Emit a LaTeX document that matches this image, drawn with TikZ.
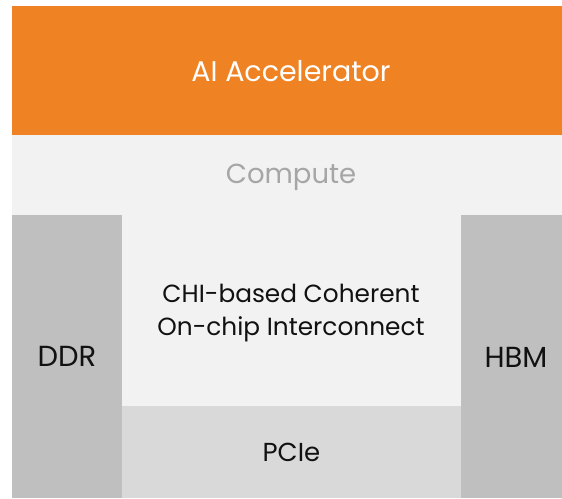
\documentclass[tikz,border=0pt]{standalone}
\usepackage{fontspec}
\setmainfont{Poppins}
\definecolor{accorange}{HTML}{EF8222}
\definecolor{lightbg}{HTML}{F2F2F2}
\definecolor{memgray}{HTML}{BFBFBF}
\definecolor{pciegray}{HTML}{D9D9D9}
\definecolor{computetext}{HTML}{A6A6A6}
\definecolor{darktext}{HTML}{111111}
\begin{document}
\begin{tikzpicture}[x=1pt,y=-1pt,
  block/.style={rectangle,inner sep=0pt,outer sep=0pt,anchor=north west,font=\fontsize{26}{30}\selectfont,text=darktext,align=center},
  plain/.style={inner sep=0pt,outer sep=0pt,font=\fontsize{24.8}{33}\selectfont,text=darktext,align=center}]
\useasboundingbox (0,0) rectangle (562,498);
\fill[white] (0,0) rectangle (562,498);
\node[block,fill=lightbg,minimum width=550pt,minimum height=363pt] (base) at (12,135) {};
\node[block,fill=accorange,minimum width=550pt,minimum height=129pt] (accel) at (12,6) {};
\node[plain,text=white,font=\fontsize{28.5}{32}\selectfont] (acceltext) at (291,71) {AI Accelerator};
\node[block,fill=memgray,minimum width=110pt,minimum height=283pt,font=\fontsize{29}{32}\selectfont] (ddr) at (12,215) {DDR};
\node[block,fill=memgray,minimum width=101pt,minimum height=283pt] (hbm) at (461,215) {};
\node[plain,font=\fontsize{29}{32}\selectfont] (hbmtext) at (516,357) {HBM};
\node[block,fill=pciegray,minimum width=339pt,minimum height=92pt] (pcie) at (122,406) {PCIe};
\node[plain,text=computetext,font=\fontsize{27.5}{30}\selectfont] (compute) at (291,177) {Compute};
\node[plain] (noc) at (291,313) {CHI-based Coherent\\On-chip Interconnect};
\end{tikzpicture}
\end{document}
